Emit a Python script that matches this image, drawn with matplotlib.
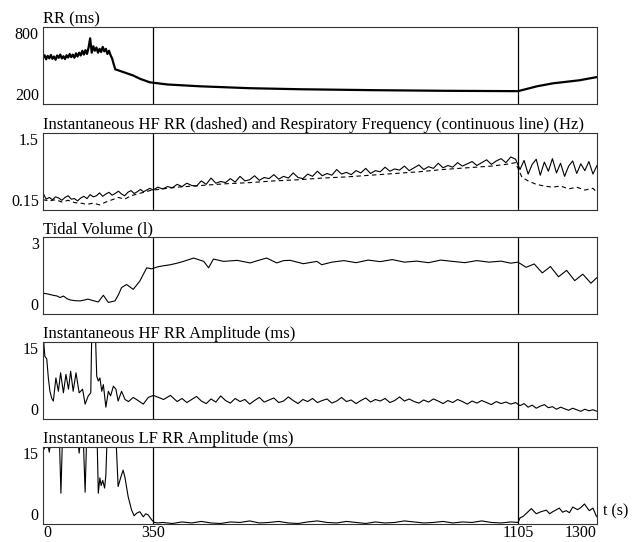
import numpy as np
import matplotlib.pyplot as plt

# time axis breakpoints (s) and their relative screen widths
t_break = [0, 350, 1105, 1300]
w_break = [0, 110, 475, 554]

# RR (ms)
rr_t = list(range(0, 235, 5)) + [240, 260, 286, 310, 340, 380, 447, 551, 654, 800, 950, 1105,
                                  1152, 1191, 1257, 1300]
rr_v = [560, 580, 548, 575, 556, 582, 552, 570, 545, 578,
        560, 585, 555, 572, 550, 580, 562, 590, 565, 585,
        560, 595, 570, 600, 578, 615, 585, 620, 590, 640,
        712, 600, 650, 615, 640, 600, 630, 605, 645, 610,
        630, 590, 615, 580, 555, 510, 470,
        462, 445, 423, 395, 369, 352, 338, 323, 315, 308, 303, 300,
        338, 361, 385, 410]

# respiratory frequency (continuous) and HF RR frequency (dashed), Hz
resp_t = list(range(0, 1301, 10))
resp_v = [0.45, 0.34, 0.37, 0.33, 0.38, 0.36, 0.32, 0.37, 0.40, 0.34, 0.35,
          0.31, 0.36, 0.39, 0.35, 0.42, 0.38, 0.40, 0.45, 0.39, 0.43,
          0.46, 0.41, 0.44, 0.48, 0.43, 0.40, 0.46, 0.49, 0.44, 0.47,
          0.51, 0.47, 0.50, 0.53, 0.50, 0.55, 0.52, 0.56, 0.54, 0.60,
          0.56, 0.62, 0.58, 0.57, 0.66, 0.60, 0.71, 0.62, 0.65, 0.63,
          0.70, 0.64, 0.74, 0.66, 0.68, 0.75, 0.67, 0.72, 0.70, 0.77,
          0.69, 0.74, 0.71, 0.80, 0.72, 0.70, 0.78, 0.74, 0.83, 0.75,
          0.79, 0.76, 0.86, 0.78, 0.81, 0.77, 0.84, 0.80, 0.88, 0.79,
          0.84, 0.82, 0.90, 0.83, 0.87, 0.85, 0.92, 0.84, 0.89, 0.94,
          0.86, 0.91, 0.88, 0.97, 0.89, 0.93, 0.90, 0.98, 0.92, 0.96,
          1.00, 0.93, 0.98, 1.03, 0.95, 1.01, 1.05, 0.98, 1.08, 1.04,
          0.86, 1.02, 0.78, 0.95, 1.04, 0.76, 0.99, 0.83, 1.05, 0.80,
          0.97, 0.74, 0.92, 1.01, 0.79, 0.96, 0.84, 1.00, 0.78, 0.93]
hfrr_t = [0, 20, 40, 60, 80, 100, 120, 140, 160, 180, 200, 220, 240, 260, 280, 300, 320, 340, 360,
          400, 450, 500, 550, 600, 650, 700, 750, 800, 850, 900, 950, 1000, 1050, 1080, 1100,
          1115, 1130, 1150, 1170, 1190, 1210, 1230, 1250, 1270, 1290, 1300]
hfrr_v = [0.33, 0.31, 0.33, 0.29, 0.32, 0.28, 0.27, 0.25, 0.27, 0.24,
          0.29, 0.33, 0.37, 0.34, 0.40, 0.43, 0.46, 0.49, 0.51,
          0.55, 0.58, 0.61, 0.63, 0.66, 0.68, 0.71, 0.73, 0.76, 0.79, 0.82, 0.86, 0.89, 0.92,
          0.95, 0.98,
          0.72, 0.66, 0.60, 0.57, 0.55, 0.57, 0.52, 0.55, 0.50, 0.53, 0.46]

# tidal volume (l)
tv_t = [0, 15, 32, 45, 54, 65, 76, 86, 100, 118, 130, 143, 160, 176, 192, 208, 229, 240, 250, 266,
        287, 308, 330, 346, 360, 372, 386, 400, 413, 434, 455, 465, 475, 496, 524, 551, 570, 585,
        606, 620, 634, 661, 689, 699, 720, 745, 770, 795, 820, 845, 870, 895, 920, 945, 970, 995,
        1020, 1045, 1070, 1090, 1105, 1125, 1145, 1165, 1185, 1205, 1225, 1245, 1265, 1285, 1300]
tv_v = [0.81, 0.78, 0.73, 0.70, 0.64, 0.70, 0.60, 0.55, 0.52, 0.51,
        0.54, 0.58, 0.52, 0.47, 0.73, 0.45, 0.51, 0.75, 1.03, 1.15,
        0.96, 1.28, 1.80, 1.76, 1.84, 1.88, 1.92, 1.98, 2.05, 2.18,
        2.05, 1.80, 2.14, 2.05, 2.09, 1.99, 2.10, 2.18, 1.99, 2.08,
        2.09, 1.96, 2.05, 1.92, 2.02, 2.08, 2.00, 2.10, 2.04, 2.12,
        2.02, 2.06, 2.00, 2.10, 2.05, 2.00, 2.08, 2.02, 2.06, 1.98,
        2.02, 1.82, 1.95, 1.60, 1.85, 1.45, 1.70, 1.30, 1.55, 1.20, 1.42]

# HF RR amplitude (ms)
hfa_t = [0, 3, 6, 12, 17, 22, 28, 33, 41, 49, 56, 65, 73, 81, 88, 96, 105, 115, 126, 134,
         144, 152, 156, 165, 171, 176, 181, 187, 192, 200, 208, 215, 224, 232, 239, 250, 261,
         272, 287, 300, 319, 335, 351, 372, 386] + list(range(400, 1301, 10))
hfa_v = [18, 14.5, 12.2, 11.7, 8.0, 5.4, 4.0, 3.5, 8.0, 5.4,
         9.0, 5.1, 8.7, 5.8, 9.3, 5.4, 9.0, 5.1, 5.8, 2.9,
         4.5, 5.1, 20, 20, 8.3, 7.4, 8.0, 5.4, 6.7, 2.3,
         5.4, 4.5, 6.4, 5.8, 3.5, 5.4, 3.8, 3.4, 4.2, 3.7,
         2.9, 4.2, 4.6, 3.8, 4.6,
         3.4, 4.0, 3.2, 3.8, 4.4, 3.5, 3.0, 3.9, 3.3, 4.5,
         3.6, 3.1, 4.0, 3.4, 3.8, 2.9, 3.6, 4.2, 3.3, 3.7,
         4.1, 3.2, 3.5, 4.3, 3.6, 3.0, 3.8, 3.4, 4.0, 3.2,
         3.6, 3.9, 3.1, 3.5, 4.2, 3.4, 3.7, 3.0, 3.6, 4.1,
         3.3, 3.8, 3.5, 4.0, 3.2, 3.6, 4.3, 3.5, 3.9, 3.4,
         3.1, 3.7, 3.3, 3.9, 3.5, 3.0, 3.6, 3.2, 3.8, 3.4,
         2.9, 3.5, 3.1, 3.6, 3.2, 2.8, 3.4, 3.0, 3.3, 2.9, 3.2,
         2.6, 3.0, 2.3, 2.7, 2.1, 2.5, 2.8, 2.2, 2.4, 1.9,
         2.3, 2.0, 1.7, 2.1, 1.8, 1.5, 1.9, 1.6, 1.8, 1.5]

# LF RR amplitude (ms)
lfa_t = [0, 4, 8, 14, 20, 26, 30, 36, 44, 52, 57, 62, 70, 80, 90, 96, 102, 110, 115, 120,
         128, 134, 139, 150, 160, 172, 176, 181, 185, 190, 196, 200, 204, 215, 225, 232, 239,
         247, 255, 261, 271, 282, 290, 298, 308, 319, 327, 335, 346, 353, 360] \
    + list(range(370, 1091, 20)) \
    + [1105, 1110, 1118, 1126, 1138, 1150, 1162, 1175, 1183, 1191, 1207, 1215, 1224, 1232,
       1240, 1252, 1260, 1269, 1281, 1290, 1298, 1300]
lfa_v = [17, 14.6, 17, 16, 14.0, 16.5, 17, 15.2, 17, 17, 6.0, 17, 17, 17, 17, 15.2, 17, 17, 13.8, 17,
         17, 6.2, 17, 17, 17, 17, 6.0, 9.0, 7.5, 8.5, 7.0, 9.5, 17, 17, 17, 17, 7.3,
         9.0, 10.5, 9.0, 5.3, 2.7, 1.6, 2.1, 2.4, 1.4, 2.0, 1.75, 0.8, 0.3, 0.2,
         0.3, 0.1, 0.4, 0.2, 0.5, 0.2, 0.1, 0.4, 0.3, 0.6, 0.2, 0.3, 0.5, 0.2, 0.1, 0.4, 0.6,
         0.3, 0.2, 0.5, 0.3, 0.1, 0.4, 0.2, 0.3, 0.6, 0.4, 0.2, 0.3, 0.5, 0.2, 0.4, 0.3, 0.6,
         0.3, 0.2, 0.4,
         0.3, 1.2, 1.5, 2.1, 3.0, 2.0, 2.4, 2.7, 2.0, 2.4, 3.1, 2.3, 2.6, 2.2,
         3.3, 2.8, 3.2, 3.9, 2.6, 3.1, 1.6, 1.4]

titles = ["RR (ms)",
          "Instantaneous HF RR (dashed) and Respiratory Frequency (continuous line) (Hz)",
          "Tidal Volume (l)",
          "Instantaneous HF RR Amplitude (ms)",
          "Instantaneous LF RR Amplitude (ms)"]
ylims = [(200, 800), (0.15, 1.5), (0, 3), (0, 15), (0, 15)]
ylabels = [("200", "800"), ("0.15", "1.5"), ("0", "3"), ("0", "15"), ("0", "15")]
xticks = [0, 350, 1105, 1300]


def fwd(t):
    return np.interp(t, t_break, w_break)


def inv(p):
    return np.interp(p, w_break, t_break)


plt.rcParams['font.family'] = 'Liberation Serif'
plt.rcParams['font.size'] = 11.5

fig = plt.figure(figsize=(6.36, 5.42), dpi=100)
W, H = 636, 542
tops = [27, 133, 237, 342, 447]
axh = 77
left, right = 43, 597

axes = []
for i in range(5):
    ax = fig.add_axes([left / W, 1 - (tops[i] + axh) / H, (right - left) / W, axh / H])
    ax.set_xscale('function', functions=(fwd, inv))
    ax.set_xlim(0, 1300)
    lo, hi = ylims[i]
    ax.set_ylim(lo, hi)
    ax.set_yticks([lo, hi], ylabels[i])
    yl = ax.get_yticklabels()
    yl[0].set_va('bottom')
    yl[1].set_va('top')
    ax.tick_params(axis='both', length=0, pad=3)
    ax.tick_params(axis='x', pad=1)
    for s in ax.spines.values():
        s.set_linewidth(0.8)
        s.set_color('#333333')
    for xv in (350, 1105):
        ax.axvline(xv, color='black', lw=0.9)
    ax.set_title(titles[i], loc='left', pad=2, fontsize=12)
    if i < 4:
        ax.set_xticks([])
    else:
        ax.set_xticks(xticks, [str(x) for x in xticks])
        xl = ax.get_xticklabels()
        xl[0].set_ha('left')
        xl[-1].set_ha('right')
    axes.append(ax)

axes[0].plot(rr_t, rr_v, color='black', lw=1.6)
axes[1].plot(resp_t, resp_v, color='black', lw=0.8)
axes[1].plot(hfrr_t, hfrr_v, color='black', lw=0.8, dashes=(4, 3))
axes[2].plot(tv_t, tv_v, color='black', lw=0.8)
axes[3].plot(hfa_t, hfa_v, color='black', lw=0.8)
axes[4].plot(lfa_t, lfa_v, color='black', lw=0.8)

axes[4].text(1.01, 0.06, "t (s)", transform=axes[4].transAxes, ha='left', va='bottom')

fig.savefig("out.png", dpi=100)
